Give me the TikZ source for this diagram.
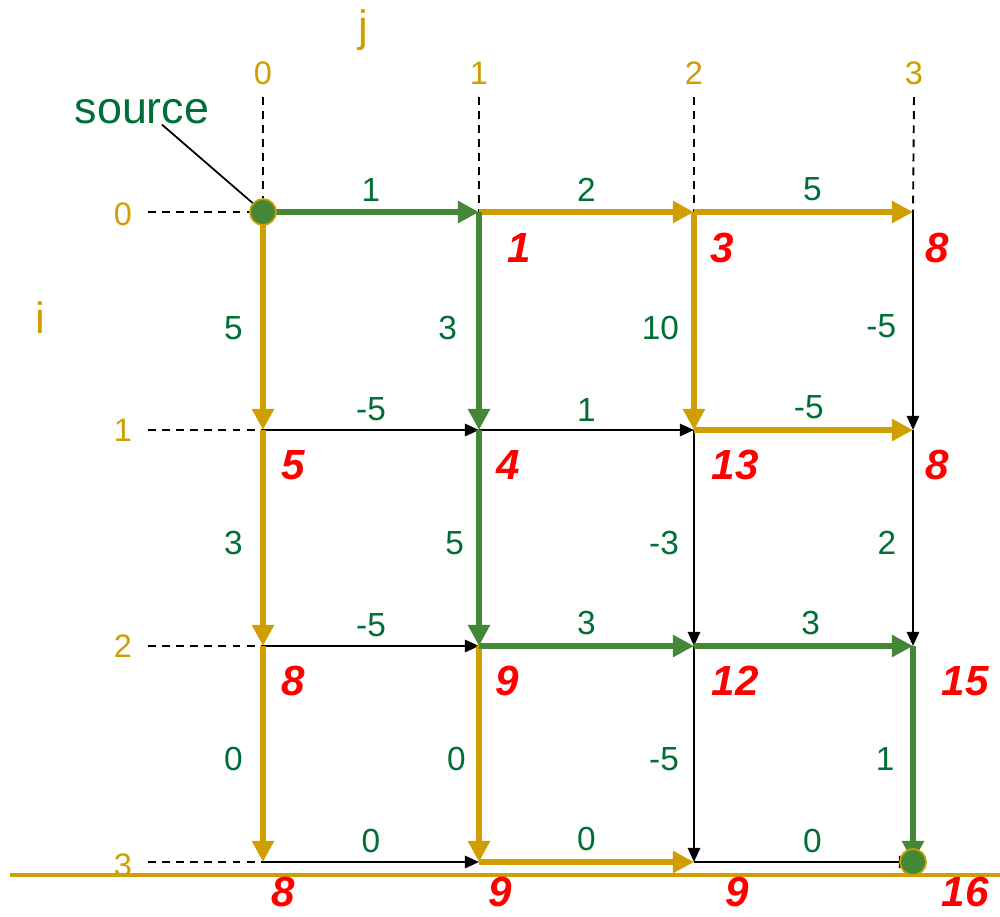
\documentclass[tikz,border=0pt]{standalone}
\usepackage{fontspec}
\setmainfont{Liberation Sans}
\usepackage{tikz}
\usetikzlibrary{arrows.meta, positioning, calc}
\usepackage{xcolor}
\definecolor{gold}{RGB}{208,158,0}
\definecolor{pathgreen}{RGB}{67,135,55}
\definecolor{lblgreen}{RGB}{0,110,55}
\tikzstyle{blackedge} = [line width=1.2pt, -{Triangle[length=8pt, width=7pt]}]
\tikzstyle{goldedge} = [draw=gold, line width=3.2pt, -{Triangle[length=12pt, width=12pt]}]
\tikzstyle{greenedge} = [draw=pathgreen, line width=3.2pt, -{Triangle[length=12pt, width=12pt]}]
\tikzstyle{guide} = [line width=1.1pt, dash pattern=on 4.5pt off 3.5pt]
\tikzstyle{wt} = [text=lblgreen, font=\fontsize{19}{22}\selectfont, inner sep=0pt]
\tikzstyle{dist} = [text=red, font=\fontsize{24}{28}\selectfont\bfseries\itshape, inner sep=0pt]
\tikzstyle{idx} = [text=gold, font=\fontsize{18.5}{22}\selectfont, inner sep=0pt]
\tikzstyle{endpt} = [circle, fill=pathgreen, draw=gold, line width=1pt, minimum size=0.52cm, inner sep=0pt]

\begin{document}
\begin{tikzpicture}[x=0.02cm, y=-0.02cm]
  \useasboundingbox (0,0) rectangle (1000,916);

  % grid points
  \foreach \i/\y in {0/212, 1/430, 2/646, 3/862}
    \foreach \j/\x in {0/263, 1/479, 2/694, 3/913}
      \coordinate (n\i\j) at (\x,\y);

  % index labels
  \node[idx, font=\fontsize{25}{28}\selectfont] (jlbl) at (363,30) {j};
  \node[idx, font=\fontsize{25}{28}\selectfont] (ilbl) at (40,318) {i};
  \node[idx] (c0) at (263,73) {0};
  \node[idx] (c1) at (479,73) {1};
  \node[idx] (c2) at (694,73) {2};
  \node[idx] (c3) at (914,73) {3};
  \node[idx] (r0) at (123,214) {0};
  \node[idx] (r1) at (123,430) {1};
  \node[idx] (r2) at (123,646) {2};
  \node[idx] (r3) at (123,865) {3};

  \draw[guide] ([yshift=-7pt]c0.south) -- (n00);
  \draw[guide] ([yshift=-7pt]c1.south) -- (n01);
  \draw[guide] ([yshift=-7pt]c2.south) -- (n02);
  \draw[guide] ([yshift=-7pt]c3.south) -- (n03);
  \draw[guide] ($(r0.east |- n00)+(9pt,0)$) -- (n00);
  \draw[guide] ($(r1.east |- n10)+(9pt,0)$) -- (n10);
  \draw[guide] ($(r2.east |- n20)+(9pt,0)$) -- (n20);
  \draw[guide] ($(r3.east |- n30)+(9pt,0)$) -- (n30);

  % bottom line
  \coordinate (baseL) at (10,875);
  \coordinate (baseR) at (1000,875);
  \draw[gold, line width=1.8pt] (baseL) -- (baseR);

  % plain edges
  \draw[blackedge] (n10) -- node[wt, above=4.5pt] {-5} (n11);
  \draw[blackedge] (n11) -- node[wt, above=4.5pt] {1} (n12);
  \draw[blackedge] (n20) -- node[wt, above=4.5pt] {-5} (n21);
  \draw[blackedge] (n30) -- node[wt, above=4.5pt] {0} (n31);
  \draw[blackedge] (n32) -- node[wt, above=4.5pt, xshift=5pt] {0} (n33);
  \draw[blackedge] (n12) -- node[wt, left=8pt, yshift=-3pt] {-3} (n22);
  \draw[blackedge] (n22) -- node[wt, left=8pt, yshift=-3pt] {-5} (n32);
  \draw[blackedge] (n03) -- node[wt, left=9pt, yshift=-3pt] {-5} (n13);
  \draw[blackedge] (n13) -- node[wt, left=9pt, yshift=-3pt] {2} (n23);

  % gold edges
  \draw[goldedge] (n01) -- node[wt, above=4.5pt] {2} (n02);
  \draw[goldedge] (n02) -- node[wt, above=4.5pt, xshift=5pt] {5} (n03);
  \draw[goldedge] (n12) -- node[wt, above=4.5pt, xshift=3pt] {-5} (n13);
  \draw[goldedge] (n31) -- node[wt, above=4.5pt] {0} (n32);
  \draw[goldedge] (n00) -- node[wt, left=10pt, yshift=-4pt] {5} (n10);
  \draw[goldedge] (n10) -- node[wt, left=10pt, yshift=-3pt] {3} (n20);
  \draw[goldedge] (n20) -- node[wt, left=10pt, yshift=-3pt] {0} (n30);
  \draw[goldedge] (n21) -- node[wt, left=6pt, yshift=-3pt] {0} (n31);
  \draw[goldedge] (n02) -- node[wt, left=7pt, yshift=-4pt] {10} (n12);

  % shortest path
  \draw[greenedge] (n00) -- node[wt, above=4.5pt] {1} (n01);
  \draw[greenedge] (n01) -- node[wt, left=11pt, yshift=-4pt] {3} (n11);
  \draw[greenedge] (n11) -- node[wt, left=7pt, yshift=-3pt] {5} (n21);
  \draw[greenedge] (n21) -- node[wt, above=4.5pt] {3} (n22);
  \draw[greenedge] (n22) -- node[wt, above=4.5pt, xshift=4pt] {3} (n23);
  \draw[greenedge] (n23) -- node[wt, left=9pt, yshift=-3pt] {1} (n33);

  \node[endpt] (src) at (n00) {};
  \node[endpt] (dst) at (n33) {};
  \node[text=lblgreen, font=\fontsize{25.5}{30}\selectfont, inner sep=0pt] (srclbl) at (142,112) {source};
  \draw[line width=1pt] ($(srclbl.south)+(20,0)$) -- (src);

  % distances
  \node[dist] (d01) at ([shift={(40,36)}]n01) {1};
  \node[dist] (d02) at ([shift={(28,36)}]n02) {3};
  \node[dist] (d03) at ([shift={(24,36)}]n03) {8};
  \node[dist] (d10) at ([shift={(30,35)}]n10) {5};
  \node[dist] (d11) at ([shift={(29,35)}]n11) {4};
  \node[dist] (d12) at ([shift={(41,35)}]n12) {13};
  \node[dist] (d13) at ([shift={(24,35)}]n13) {8};
  \node[dist] (d20) at ([shift={(30,35)}]n20) {8};
  \node[dist] (d21) at ([shift={(28,35)}]n21) {9};
  \node[dist] (d22) at ([shift={(41,35)}]n22) {12};
  \node[dist] (d23) at ([shift={(52,35)}]n23) {15};
  \node[dist] (d30) at ([shift={(20,30)}]n30) {8};
  \node[dist] (d31) at ([shift={(21,30)}]n31) {9};
  \node[dist] (d32) at ([shift={(43,30)}]n32) {9};
  \node[dist] (d33) at ([shift={(52,30)}]n33) {16};
\end{tikzpicture}
\end{document}
